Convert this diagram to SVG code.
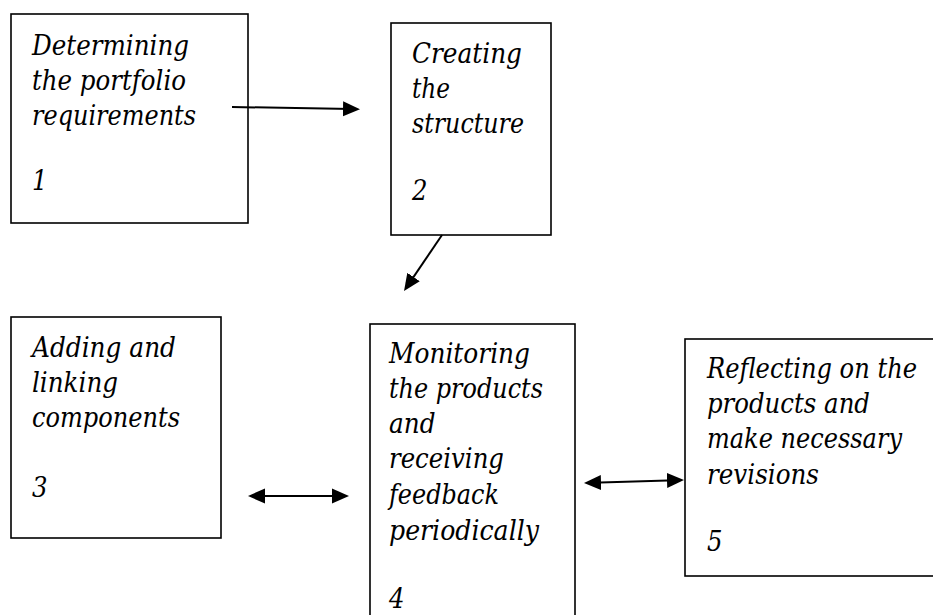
<svg xmlns="http://www.w3.org/2000/svg" width="933" height="615" viewBox="0 0 933 615">
<style>
.box{fill:#fff;stroke:#000;stroke-width:1.6}
.t{font-size:28px;fill:#000}
.c{stroke:#000;stroke-width:2;fill:none}
</style>
<defs>
<marker id="ah" markerUnits="userSpaceOnUse" markerWidth="17" markerHeight="16" refX="9" refY="8" orient="auto-start-reverse">
<path d="M0,0.5 L17,8 L0,15.5 Z" fill="#000"/>
</marker>
</defs>
<rect width="933" height="615" fill="#fff"/>
<g id="n1" font-family="DejaVu Serif" font-style="italic">
<rect class="box" x="11" y="14" width="237" height="209"/>
<text class="t" x="32" y="55" textLength="157" lengthAdjust="spacingAndGlyphs">Determining</text>
<text class="t" x="32" y="90" textLength="154" lengthAdjust="spacingAndGlyphs">the portfolio</text>
<text class="t" x="32" y="125" textLength="164" lengthAdjust="spacingAndGlyphs">requirements</text>
<text class="t" x="32" y="190" textLength="15.5" lengthAdjust="spacingAndGlyphs">1</text>
</g>
<g id="n2" font-family="DejaVu Serif" font-style="italic">
<rect class="box" x="391" y="23" width="160" height="212"/>
<text class="t" x="412" y="63" textLength="110" lengthAdjust="spacingAndGlyphs">Creating</text>
<text class="t" x="412" y="98" textLength="38" lengthAdjust="spacingAndGlyphs">the</text>
<text class="t" x="412" y="133" textLength="112" lengthAdjust="spacingAndGlyphs">structure</text>
<text class="t" x="412" y="200" textLength="15.5" lengthAdjust="spacingAndGlyphs">2</text>
</g>
<g id="n3" font-family="DejaVu Serif" font-style="italic">
<rect class="box" x="11" y="317" width="210" height="221"/>
<text class="t" x="32" y="357" textLength="144" lengthAdjust="spacingAndGlyphs">Adding and</text>
<text class="t" x="32" y="392" textLength="86" lengthAdjust="spacingAndGlyphs">linking</text>
<text class="t" x="32" y="427" textLength="148" lengthAdjust="spacingAndGlyphs">components</text>
<text class="t" x="32" y="497" textLength="15.5" lengthAdjust="spacingAndGlyphs">3</text>
</g>
<g id="n4" font-family="DejaVu Serif" font-style="italic">
<rect class="box" x="370" y="324" width="205" height="320"/>
<text class="t" x="389" y="363" textLength="141" lengthAdjust="spacingAndGlyphs">Monitoring</text>
<text class="t" x="389" y="398" textLength="154" lengthAdjust="spacingAndGlyphs">the products</text>
<text class="t" x="389" y="433" textLength="46.5" lengthAdjust="spacingAndGlyphs">and</text>
<text class="t" x="389" y="468" textLength="115" lengthAdjust="spacingAndGlyphs">receiving</text>
<text class="t" x="389" y="504" textLength="110" lengthAdjust="spacingAndGlyphs">feedback</text>
<text class="t" x="389" y="540" textLength="150" lengthAdjust="spacingAndGlyphs">periodically</text>
<text class="t" x="389" y="608" textLength="15.5" lengthAdjust="spacingAndGlyphs">4</text>
</g>
<g id="n5" font-family="DejaVu Serif" font-style="italic">
<rect class="box" x="685" y="339" width="270" height="237"/>
<text class="t" x="707" y="378" textLength="210" lengthAdjust="spacingAndGlyphs">Reflecting on the</text>
<text class="t" x="707" y="413" textLength="163" lengthAdjust="spacingAndGlyphs">products and</text>
<text class="t" x="707" y="448" textLength="195" lengthAdjust="spacingAndGlyphs">make necessary</text>
<text class="t" x="707" y="484" textLength="112" lengthAdjust="spacingAndGlyphs">revisions</text>
<text class="t" x="707" y="551" textLength="15.5" lengthAdjust="spacingAndGlyphs">5</text>
</g>
<g id="connectors">
<line class="c" x1="232" y1="107" x2="352" y2="109" marker-end="url(#ah)"/>
<line class="c" x1="442" y1="235" x2="408.5" y2="284.4" marker-end="url(#ah)"/>
<line class="c" x1="256" y1="496" x2="341" y2="496" marker-start="url(#ah)" marker-end="url(#ah)"/>
<line class="c" x1="592" y1="482.8" x2="676" y2="480.2" marker-start="url(#ah)" marker-end="url(#ah)"/>
</g>
</svg>
